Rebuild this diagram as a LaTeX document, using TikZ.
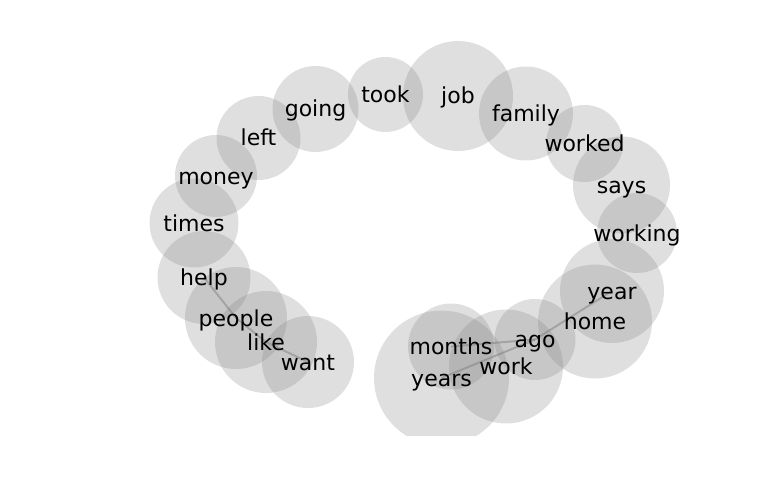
\documentclass[tikz,border=0pt]{standalone}
\usepackage{fontspec}
\setmainfont{DejaVu Sans}
\begin{document}
\begin{tikzpicture}[x=1pt,y=-1pt,
  bubble/.style={circle, inner sep=0pt, draw=none,
    fill={rgb,255:red,128;green,128;blue,128}, fill opacity=0.25},
  edge/.style={draw={rgb,255:red,128;green,128;blue,128}, draw opacity=0.5, line width=2pt},
  word/.style={inner sep=0pt, anchor=base, text=black, font=\fontsize{22}{24}\selectfont}]
\useasboundingbox (0,0) rectangle (768,500);
\begin{scope}
\clip (0,0) rectangle (768,435);
\node[bubble, minimum size=75pt] (took) at (385.5,94.5) {};
\node[bubble, minimum size=110pt] (job) at (458,96) {};
\node[bubble, minimum size=94pt] (family) at (526,113.5) {};
\node[bubble, minimum size=77pt] (worked) at (584.5,143.5) {};
\node[bubble, minimum size=97pt] (says) at (621.5,185) {};
\node[bubble, minimum size=80pt] (working) at (637,233) {};
\node[bubble, minimum size=104pt] (year) at (612,291) {};
\node[bubble, minimum size=114pt] (home) at (595,321.5) {};
\node[bubble, minimum size=81pt] (ago) at (535,339.5) {};
\node[bubble, minimum size=114pt] (work) at (506,366.5) {};
\node[bubble, minimum size=86pt] (months) at (451,346.5) {};
\node[bubble, minimum size=135pt] (years) at (441.5,378) {};
\node[bubble, minimum size=92pt] (want) at (308,362) {};
\node[bubble, minimum size=102pt] (like) at (266,342) {};
\node[bubble, minimum size=102pt] (people) at (236,318) {};
\node[bubble, minimum size=93pt] (help) at (204,277.5) {};
\node[bubble, minimum size=89pt] (times) at (194,223) {};
\node[bubble, minimum size=82pt] (money) at (216,176) {};
\node[bubble, minimum size=84pt] (left) at (258.5,138) {};
\node[bubble, minimum size=86pt] (going) at (315.5,109) {};
\end{scope}
\draw[edge] (help.center) -- (people.center) -- (like.center) -- (want.center);
\draw[edge] (years.center) -- (ago.center);
\draw[edge] (months.center) -- (ago.center);
\draw[edge] (ago.center) -- (year.center);
\foreach \n in {took,job,family,worked,says,working,year,home,ago,work,months,years,want,like,people,help,times,money,left,going}
  \node[word] at ([yshift=-8pt]\n.center) {\n};
\end{tikzpicture}
\end{document}
